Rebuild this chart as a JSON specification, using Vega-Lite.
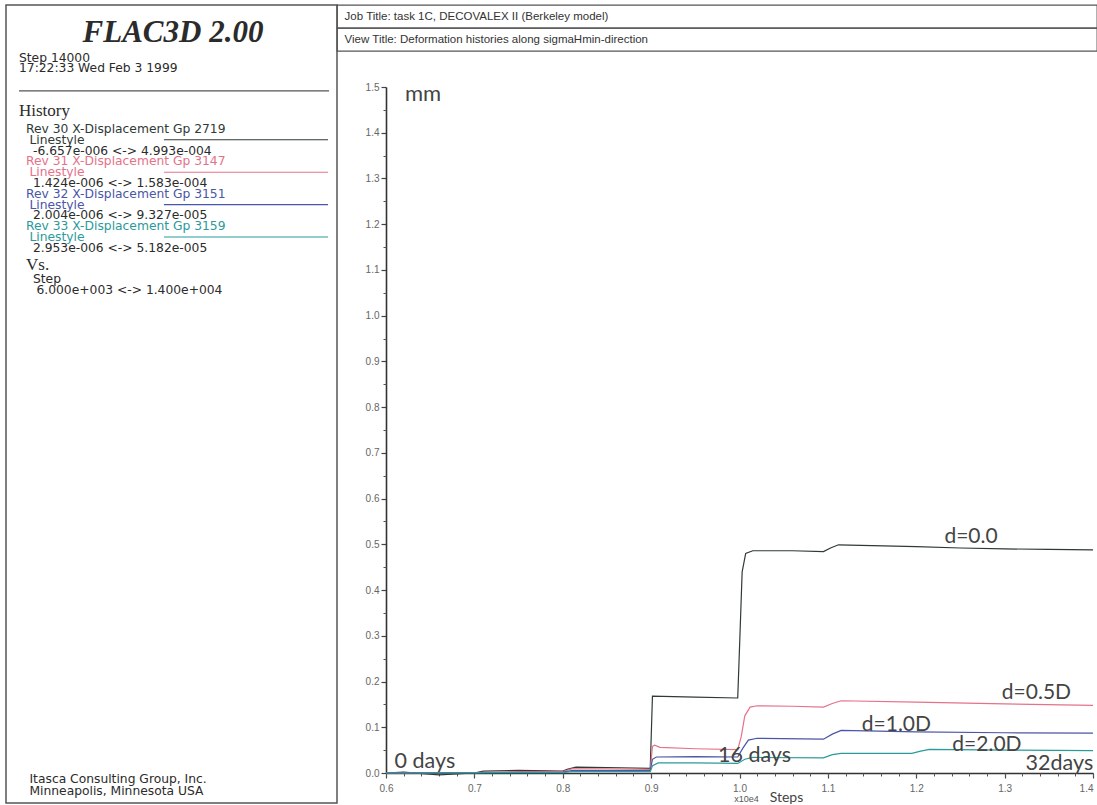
{
  "$schema": "https://vega.github.io/schema/vega-lite/v6.json",
  "padding": {"left": 5, "top": 4, "right": 0, "bottom": 0},
  "background": "white",
  "bounds": "flush",
  "spacing": 0,
  "config": {
    "view": {"stroke": null},
    "font": "Liberation Sans",
    "axis": {"labelFont": "Liberation Sans", "titleFont": "Lato", "grid": false}
  },
  "datasets": {
    "panelText": [
      {"line": 5.43, "indent": 0, "text": "Step 14000", "series": "general"},
      {"line": 6.35, "indent": 0, "text": "17:22:33 Wed Feb 3 1999", "series": "general"},
      {"line": 12, "indent": 2, "text": "Rev 30 X-Displacement Gp 2719", "series": "Rev 30"},
      {"line": 13, "indent": 3, "text": "Linestyle", "series": "Rev 30"},
      {"line": 14, "indent": 4, "text": "-6.657e-006 <-> 4.993e-004", "series": "general"},
      {"line": 15, "indent": 2, "text": "Rev 31 X-Displacement Gp 3147", "series": "Rev 31"},
      {"line": 16, "indent": 3, "text": "Linestyle", "series": "Rev 31"},
      {"line": 17, "indent": 4, "text": "1.424e-006 <-> 1.583e-004", "series": "general"},
      {"line": 18, "indent": 2, "text": "Rev 32 X-Displacement Gp 3151", "series": "Rev 32"},
      {"line": 19, "indent": 3, "text": "Linestyle", "series": "Rev 32"},
      {"line": 20, "indent": 4, "text": "2.004e-006 <-> 9.327e-005", "series": "general"},
      {"line": 21, "indent": 2, "text": "Rev 33 X-Displacement Gp 3159", "series": "Rev 33"},
      {"line": 22, "indent": 3, "text": "Linestyle", "series": "Rev 33"},
      {"line": 23, "indent": 4, "text": "2.953e-006 <-> 5.182e-005", "series": "general"},
      {"line": 25.9, "indent": 4, "text": "Step", "series": "general"},
      {"line": 26.9, "indent": 5, "text": "6.000e+003 <-> 1.400e+004", "series": "general"},
      {"line": 72.2, "indent": 3, "text": "Itasca Consulting Group, Inc.", "series": "general"},
      {"line": 73.3, "indent": 3, "text": "Minneapolis, Minnesota USA", "series": "general"}
    ],
    "panelHeads": [
      {"line": 10.33, "indent": 0, "text": "History"},
      {"line": 24.6, "indent": 2, "text": "Vs."}
    ],
    "panelRules": [
      {"line": 13, "series": "Rev 30"},
      {"line": 16, "series": "Rev 31"},
      {"line": 19, "series": "Rev 32"},
      {"line": 22, "series": "Rev 33"}
    ],
    "histories": [
      {"series": "Rev 30", "step": 0.6, "disp": 0.0},
      {"series": "Rev 30", "step": 0.62, "disp": 0.002},
      {"series": "Rev 30", "step": 0.66, "disp": -0.004},
      {"series": "Rev 30", "step": 0.7, "disp": 0.0},
      {"series": "Rev 30", "step": 0.71, "disp": 0.004},
      {"series": "Rev 30", "step": 0.75, "disp": 0.006},
      {"series": "Rev 30", "step": 0.8, "disp": 0.004},
      {"series": "Rev 30", "step": 0.805, "disp": 0.008},
      {"series": "Rev 30", "step": 0.815, "disp": 0.013},
      {"series": "Rev 30", "step": 0.85, "disp": 0.012},
      {"series": "Rev 30", "step": 0.899, "disp": 0.01},
      {"series": "Rev 30", "step": 0.9015, "disp": 0.168},
      {"series": "Rev 30", "step": 0.95, "disp": 0.166},
      {"series": "Rev 30", "step": 0.998, "disp": 0.164},
      {"series": "Rev 30", "step": 1.0005, "disp": 0.3},
      {"series": "Rev 30", "step": 1.003, "disp": 0.44},
      {"series": "Rev 30", "step": 1.007, "disp": 0.48},
      {"series": "Rev 30", "step": 1.015, "disp": 0.486},
      {"series": "Rev 30", "step": 1.06, "disp": 0.486},
      {"series": "Rev 30", "step": 1.095, "disp": 0.484},
      {"series": "Rev 30", "step": 1.103, "disp": 0.492},
      {"series": "Rev 30", "step": 1.112, "disp": 0.499},
      {"series": "Rev 30", "step": 1.15, "disp": 0.497},
      {"series": "Rev 30", "step": 1.2, "disp": 0.495},
      {"series": "Rev 30", "step": 1.25, "disp": 0.492},
      {"series": "Rev 30", "step": 1.3, "disp": 0.49},
      {"series": "Rev 30", "step": 1.35, "disp": 0.489},
      {"series": "Rev 30", "step": 1.4, "disp": 0.488},
      {"series": "Rev 31", "step": 0.6, "disp": 0.0},
      {"series": "Rev 31", "step": 0.7, "disp": 0.001},
      {"series": "Rev 31", "step": 0.75, "disp": 0.003},
      {"series": "Rev 31", "step": 0.8, "disp": 0.003},
      {"series": "Rev 31", "step": 0.81, "disp": 0.009},
      {"series": "Rev 31", "step": 0.85, "disp": 0.009},
      {"series": "Rev 31", "step": 0.899, "disp": 0.008},
      {"series": "Rev 31", "step": 0.9015, "disp": 0.058},
      {"series": "Rev 31", "step": 0.904, "disp": 0.061},
      {"series": "Rev 31", "step": 0.91, "disp": 0.056},
      {"series": "Rev 31", "step": 0.95, "disp": 0.053},
      {"series": "Rev 31", "step": 0.998, "disp": 0.051},
      {"series": "Rev 31", "step": 1.002, "disp": 0.08},
      {"series": "Rev 31", "step": 1.006, "disp": 0.125},
      {"series": "Rev 31", "step": 1.012, "disp": 0.144},
      {"series": "Rev 31", "step": 1.02, "disp": 0.147},
      {"series": "Rev 31", "step": 1.06, "disp": 0.146},
      {"series": "Rev 31", "step": 1.095, "disp": 0.144},
      {"series": "Rev 31", "step": 1.105, "disp": 0.152},
      {"series": "Rev 31", "step": 1.115, "disp": 0.158},
      {"series": "Rev 31", "step": 1.2, "disp": 0.155},
      {"series": "Rev 31", "step": 1.3, "disp": 0.151},
      {"series": "Rev 31", "step": 1.4, "disp": 0.148},
      {"series": "Rev 32", "step": 0.6, "disp": 0.0},
      {"series": "Rev 32", "step": 0.7, "disp": 0.001},
      {"series": "Rev 32", "step": 0.8, "disp": 0.002},
      {"series": "Rev 32", "step": 0.81, "disp": 0.005},
      {"series": "Rev 32", "step": 0.899, "disp": 0.005},
      {"series": "Rev 32", "step": 0.9015, "disp": 0.03},
      {"series": "Rev 32", "step": 0.906, "disp": 0.035},
      {"series": "Rev 32", "step": 0.95, "disp": 0.036},
      {"series": "Rev 32", "step": 0.998, "disp": 0.035},
      {"series": "Rev 32", "step": 1.004, "disp": 0.055},
      {"series": "Rev 32", "step": 1.01, "disp": 0.072},
      {"series": "Rev 32", "step": 1.02, "disp": 0.076},
      {"series": "Rev 32", "step": 1.095, "disp": 0.074},
      {"series": "Rev 32", "step": 1.105, "disp": 0.085},
      {"series": "Rev 32", "step": 1.115, "disp": 0.093},
      {"series": "Rev 32", "step": 1.2, "disp": 0.09},
      {"series": "Rev 32", "step": 1.3, "disp": 0.088},
      {"series": "Rev 32", "step": 1.4, "disp": 0.087},
      {"series": "Rev 33", "step": 0.6, "disp": 0.0},
      {"series": "Rev 33", "step": 0.7, "disp": 0.001},
      {"series": "Rev 33", "step": 0.8, "disp": 0.001},
      {"series": "Rev 33", "step": 0.81, "disp": 0.003},
      {"series": "Rev 33", "step": 0.899, "disp": 0.003},
      {"series": "Rev 33", "step": 0.9015, "disp": 0.016},
      {"series": "Rev 33", "step": 0.908, "disp": 0.022},
      {"series": "Rev 33", "step": 0.95, "disp": 0.022},
      {"series": "Rev 33", "step": 0.998, "disp": 0.021},
      {"series": "Rev 33", "step": 1.006, "disp": 0.03},
      {"series": "Rev 33", "step": 1.015, "disp": 0.034},
      {"series": "Rev 33", "step": 1.095, "disp": 0.033},
      {"series": "Rev 33", "step": 1.105, "disp": 0.04},
      {"series": "Rev 33", "step": 1.115, "disp": 0.043},
      {"series": "Rev 33", "step": 1.195, "disp": 0.043},
      {"series": "Rev 33", "step": 1.205, "disp": 0.048},
      {"series": "Rev 33", "step": 1.215, "disp": 0.0518},
      {"series": "Rev 33", "step": 1.3, "disp": 0.05},
      {"series": "Rev 33", "step": 1.4, "disp": 0.049}
    ],
    "notes": [
      {"step": 0.642, "disp": 1.47, "text": "mm", "kind": "unit"},
      {"step": 0.644, "disp": 0.01, "text": "0 days", "kind": "time"},
      {"step": 1.017, "disp": 0.025, "text": "16 days", "kind": "time"},
      {"step": 1.362, "disp": 0.006, "text": "32days", "kind": "time"},
      {"step": 1.262, "disp": 0.504, "text": "d=0.0", "kind": "depth"},
      {"step": 1.336, "disp": 0.161, "text": "d=0.5D", "kind": "depth"},
      {"step": 1.1775, "disp": 0.091, "text": "d=1.0D", "kind": "depth"},
      {"step": 1.28, "disp": 0.0475, "text": "d=2.0D", "kind": "depth"}
    ]
  },
  "hconcat": [
    {
      "width": 331,
      "height": 798,
      "view": {"stroke": "#555555", "strokeWidth": 1.5},
      "layer": [
        {
          "data": {"name": "panelText"},
          "mark": {"type": "text", "align": "left", "baseline": "middle", "font": "DejaVu Sans", "fontSize": 12.3},
          "encoding": {
            "x": {"field": "indent", "type": "quantitative", "scale": {"domain": [-3.71, 90.86], "nice": false, "zero": false}, "axis": null},
            "y": {"field": "line", "type": "quantitative", "scale": {"domain": [0.52, 74.41], "reverse": true, "nice": false, "zero": false}, "axis": null},
            "text": {"field": "text"},
            "color": {"field": "series", "type": "nominal", "legend": null,
              "scale": {"domain": ["general", "Rev 30", "Rev 31", "Rev 32", "Rev 33"], "range": ["#2b2b2b", "#2f3a37", "#e4738a", "#4a56a6", "#2b9a9a"]}}
          }
        },
        {
          "data": {"name": "panelHeads"},
          "mark": {"type": "text", "align": "left", "baseline": "middle", "font": "Liberation Serif", "fontSize": 17, "color": "#2b2b2b"},
          "encoding": {
            "x": {"field": "indent", "type": "quantitative"},
            "y": {"field": "line", "type": "quantitative"},
            "text": {"field": "text"}
          }
        },
        {
          "data": {"values": [{"line": 3.11, "text": "FLAC3D 2.00"}]},
          "mark": {"type": "text", "align": "center", "baseline": "middle", "font": "Liberation Serif", "fontSize": 31, "fontStyle": "italic", "fontWeight": "bold", "color": "#2b2b2b"},
          "encoding": {
            "x": {"datum": 44, "type": "quantitative"},
            "y": {"field": "line", "type": "quantitative"},
            "text": {"field": "text"}
          }
        },
        {
          "data": {"values": [{"line": 8.48}]},
          "mark": {"type": "rule", "color": "#555555", "strokeWidth": 1.2},
          "encoding": {
            "x": {"datum": 0, "type": "quantitative"},
            "x2": {"datum": 88.6},
            "y": {"field": "line", "type": "quantitative"}
          }
        },
        {
          "data": {"name": "panelRules"},
          "mark": {"type": "rule", "strokeWidth": 1.1},
          "encoding": {
            "x": {"datum": 41.4, "type": "quantitative"},
            "x2": {"datum": 88.3},
            "y": {"field": "line", "type": "quantitative"},
            "color": {"field": "series", "type": "nominal", "legend": null}
          }
        }
      ]
    },
    {
      "spacing": 30,
      "bounds": "full",
      "vconcat": [
        {
          "spacing": 0,
          "bounds": "flush",
          "vconcat": [
            {
              "width": 760,
              "height": 23,
              "view": {"stroke": "#555555", "strokeWidth": 1.3},
              "data": {"values": [{"text": "Job Title: task 1C, DECOVALEX II (Berkeley model)"}]},
              "mark": {"type": "text", "align": "left", "baseline": "middle", "fontSize": 11.5, "color": "#333333"},
              "encoding": {
                "x": {"datum": 1, "type": "quantitative", "scale": {"domain": [0, 100], "nice": false}, "axis": null},
                "y": {"datum": 0.5, "type": "quantitative", "scale": {"domain": [0, 1], "nice": false}, "axis": null},
                "text": {"field": "text"}
              }
            },
            {
              "width": 760,
              "height": 23,
              "view": {"stroke": "#555555", "strokeWidth": 1.3},
              "data": {"values": [{"text": "View Title: Deformation histories along sigmaHmin-direction"}]},
              "mark": {"type": "text", "align": "left", "baseline": "middle", "fontSize": 11.5, "color": "#333333"},
              "encoding": {
                "x": {"datum": 1, "type": "quantitative", "scale": {"domain": [0, 100], "nice": false}, "axis": null},
                "y": {"datum": 0.5, "type": "quantitative", "scale": {"domain": [0, 1], "nice": false}, "axis": null},
                "text": {"field": "text"}
              }
            }
          ]
        },
        {
          "spacing": 0,
          "bounds": "flush",
          "hconcat": [
            {
              "width": 49,
              "height": 686,
              "data": {"values": [{}]},
              "mark": {"type": "point", "opacity": 0}
            },
            {
              "width": 707,
              "height": 686,
              "layer": [
                {
                  "data": {"name": "histories"},
                  "mark": {"type": "line", "strokeWidth": 1.2, "clip": false},
                  "encoding": {
                    "x": {"field": "step", "type": "quantitative",
                      "scale": {"domain": [0.6, 1.4], "nice": false, "zero": false},
                      "axis": {"orient": "bottom", "values": [0.6, 0.7, 0.8, 0.9, 1.0, 1.1, 1.2, 1.3, 1.4], "format": ".1f",
                        "labelFontSize": 10, "labelColor": "#666666", "labelPadding": 5,
                        "labelAlign": {"expr": "datum.value > 1.39 ? 'right' : 'center'"},
                        "tickSize": 5, "tickColor": "#444444", "tickWidth": 1.2,
                        "domainColor": "#333333", "domainWidth": 1.6,
                        "title": "Steps", "titleFontSize": 14, "titleFontWeight": "normal", "titleColor": "#444444",
                        "titleX": 400, "titleY": 28, "titleBaseline": "alphabetic", "titleAlign": "center"}},
                    "y": {"field": "disp", "type": "quantitative",
                      "scale": {"domain": [0, 1.5], "nice": false, "zero": false},
                      "axis": {"orient": "left", "values": [0, 0.1, 0.2, 0.3, 0.4, 0.5, 0.6, 0.7, 0.8, 0.9, 1.0, 1.1, 1.2, 1.3, 1.4, 1.5], "format": ".1f",
                        "labelFontSize": 10, "labelColor": "#666666", "labelPadding": 2,
                        "tickSize": 5, "tickColor": "#444444", "tickWidth": 1.2,
                        "domainColor": "#333333", "domainWidth": 1.6, "title": null}},
                    "color": {"field": "series", "type": "nominal", "legend": null,
                      "scale": {"domain": ["general", "Rev 30", "Rev 31", "Rev 32", "Rev 33"], "range": ["#2b2b2b", "#36413e", "#e27a90", "#4d5aa8", "#33a3a3"]}},
                    "order": {"field": "step", "type": "quantitative"}
                  }
                },
                {
                  "data": {"name": "notes"},
                  "mark": {"type": "text", "align": "center", "baseline": "alphabetic", "font": "Lato", "color": "#444444", "clip": false},
                  "encoding": {
                    "x": {"field": "step", "type": "quantitative",
                      "axis": {"orient": "bottom", "values": [0.6, 0.62, 0.64, 0.66, 0.68, 0.7, 0.72, 0.74, 0.76, 0.78, 0.8, 0.82, 0.84, 0.86, 0.88, 0.9, 0.92, 0.94, 0.96, 0.98, 1.0, 1.02, 1.04, 1.06, 1.08, 1.1, 1.12, 1.14, 1.16, 1.18, 1.2, 1.22, 1.24, 1.26, 1.28, 1.3, 1.32, 1.34, 1.36, 1.38, 1.4],
                        "labels": false, "domain": false, "tickSize": 3, "tickColor": "#555555",
                        "title": "x10e4", "titleFontSize": 9, "titleFont": "Liberation Sans", "titleFontWeight": "normal", "titleColor": "#555555",
                        "titleX": 360, "titleY": 28, "titleBaseline": "alphabetic", "titleAlign": "center"}},
                    "y": {"field": "disp", "type": "quantitative",
                      "axis": {"orient": "left", "values": [0.05, 0.15, 0.25, 0.35, 0.45, 0.55, 0.65, 0.75, 0.85, 0.95, 1.05, 1.15, 1.25, 1.35, 1.45],
                        "labels": false, "domain": false, "tickSize": 3, "tickColor": "#555555", "title": null}},
                    "text": {"field": "text"},
                    "size": {"field": "kind", "type": "ordinal", "legend": null,
                      "scale": {"domain": ["unit", "time", "depth"], "range": [22, 21, 15]}}
                  }
                }
              ],
              "resolve": {"axis": {"x": "independent", "y": "independent"}}
            }
          ]
        }
      ]
    }
  ]
}
